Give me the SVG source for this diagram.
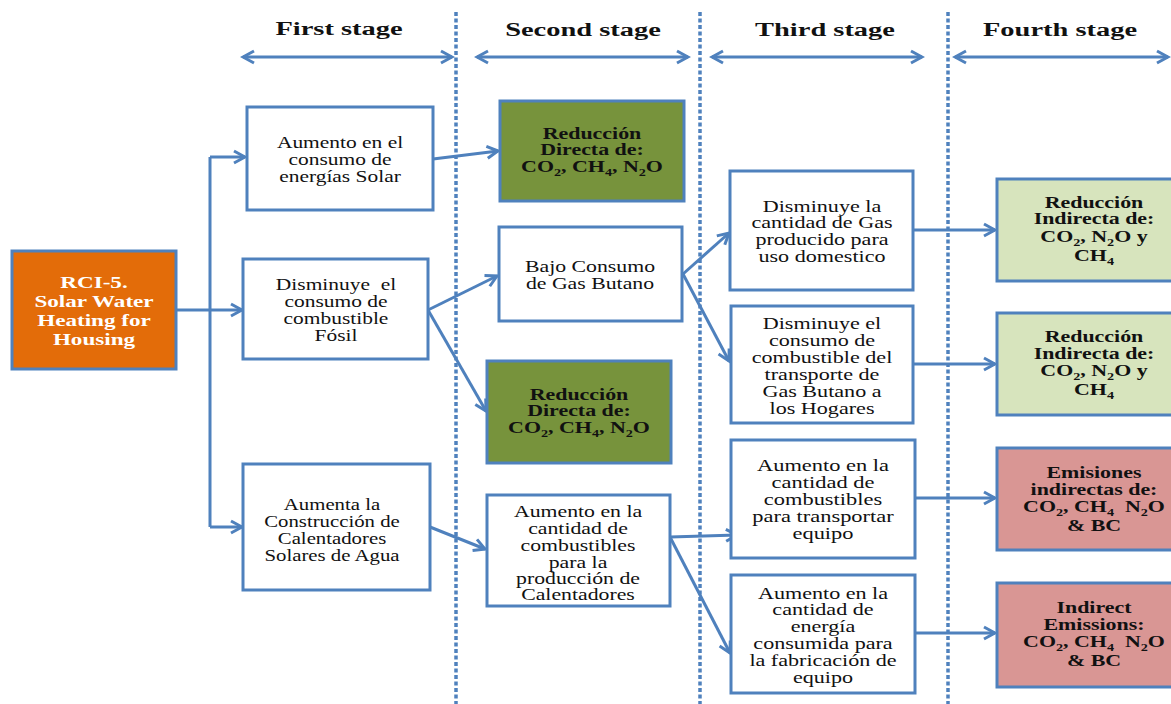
<svg xmlns="http://www.w3.org/2000/svg" width="1171" height="704" viewBox="0 0 1171 704">
  <style>
    .box { stroke: #4f81bd; stroke-width: 3; }
    .w { fill: #ffffff; }
    .g { fill: #77933c; }
    .lg { fill: #d7e4bd; }
    .pk { fill: #d99694; }
    .or { fill: #e36c09; }
    text { font-family: "Liberation Serif", "Times New Roman", serif; text-anchor: middle; fill: #111; }
    .t { font-size: 16.5px; }
    .b { font-size: 17px; font-weight: bold; }
    .h { font-size: 19.5px; font-weight: bold; }
    .wt { font-size: 17px; font-weight: bold; fill: #ffffff; }
    .sub { font-size: 11px; }
    .ln { stroke: #4f81bd; stroke-width: 3; fill: none; }
    .dash { stroke: #4f81bd; stroke-width: 3.5; stroke-dasharray: 4 2.5; fill: none; }
  </style>
  <defs>
    <marker id="ah" markerUnits="userSpaceOnUse" markerWidth="16" markerHeight="16" refX="13" refY="8" orient="auto-start-reverse">
      <path d="M2,2 L13,8 L2,14" fill="none" stroke="#4f81bd" stroke-width="3"/>
    </marker>
  </defs>
  <rect width="1171" height="704" fill="#ffffff"/>

  <!-- stage dividers -->
  <g id="dividers">
    <line class="dash" x1="456" y1="12" x2="456" y2="704"/>
    <line class="dash" x1="700" y1="12" x2="700" y2="704"/>
    <line class="dash" x1="948" y1="12" x2="948" y2="704"/>
  </g>

  <!-- stage headers (text widened horizontally) -->
  <g id="headers">
    <g transform="translate(339 0) scale(1.46 1)"><text class="h" x="0" y="35">First stage</text></g>
    <g transform="translate(583 0) scale(1.46 1)"><text class="h" x="0" y="36">Second stage</text></g>
    <g transform="translate(825 0) scale(1.46 1)"><text class="h" x="0" y="36">Third stage</text></g>
    <g transform="translate(1060 0) scale(1.46 1)"><text class="h" x="0" y="36">Fourth stage</text></g>
    <line class="ln" x1="243" y1="57" x2="452" y2="57" marker-start="url(#ah)" marker-end="url(#ah)"/>
    <line class="ln" x1="477" y1="57" x2="688" y2="57" marker-start="url(#ah)" marker-end="url(#ah)"/>
    <line class="ln" x1="712" y1="57" x2="922" y2="57" marker-start="url(#ah)" marker-end="url(#ah)"/>
    <line class="ln" x1="955" y1="57" x2="1168" y2="57" marker-start="url(#ah)" marker-end="url(#ah)"/>
  </g>

  <!-- connectors -->
  <g id="connectors">
    <polyline class="ln" points="176,310 210,310"/>
    <line class="ln" x1="210" y1="157" x2="210" y2="527"/>
    <line class="ln" x1="210" y1="157" x2="245" y2="157" marker-end="url(#ah)"/>
    <line class="ln" x1="210" y1="310" x2="242" y2="310" marker-end="url(#ah)"/>
    <line class="ln" x1="210" y1="527" x2="242" y2="527" marker-end="url(#ah)"/>
    <line class="ln" x1="433" y1="159" x2="498" y2="151" marker-end="url(#ah)"/>
    <line class="ln" x1="428" y1="310" x2="497" y2="276" marker-end="url(#ah)"/>
    <line class="ln" x1="428" y1="310" x2="486" y2="411" marker-end="url(#ah)"/>
    <line class="ln" x1="430" y1="527" x2="485" y2="549" marker-end="url(#ah)"/>
    <line class="ln" x1="683" y1="274" x2="729" y2="233" marker-end="url(#ah)"/>
    <line class="ln" x1="683" y1="274" x2="729" y2="361" marker-end="url(#ah)"/>
    <line class="ln" x1="670" y1="537" x2="737" y2="535" marker-end="url(#ah)"/>
    <line class="ln" x1="670" y1="537" x2="730" y2="653" marker-end="url(#ah)"/>
    <line class="ln" x1="913" y1="230" x2="995" y2="230" marker-end="url(#ah)"/>
    <line class="ln" x1="913" y1="364" x2="995" y2="364" marker-end="url(#ah)"/>
    <line class="ln" x1="915" y1="498" x2="995" y2="498" marker-end="url(#ah)"/>
    <line class="ln" x1="915" y1="633" x2="995" y2="633" marker-end="url(#ah)"/>
  </g>

  <!-- source measure -->
  <g id="rci5">
    <rect class="box or" x="12" y="251" width="164" height="118"/>
    <g transform="translate(94 0) scale(1.36 1)">
      <text class="wt" x="0" y="288">RCI-5.</text>
      <text class="wt" x="0" y="307">Solar Water</text>
      <text class="wt" x="0" y="326">Heating for</text>
      <text class="wt" x="0" y="345">Housing</text>
    </g>
  </g>

  <!-- first stage -->
  <g id="aumento-energias">
    <rect class="box w" x="247" y="107" width="186" height="103"/>
    <g transform="translate(340 0) scale(1.3 1)">
      <text class="t" x="0" y="148">Aumento en el</text>
      <text class="t" x="0" y="165">consumo de</text>
      <text class="t" x="0" y="182">energías Solar</text>
    </g>
  </g>
  <g id="disminuye-fosil">
    <rect class="box w" x="243" y="259" width="185" height="100"/>
    <g transform="translate(336 0) scale(1.3 1)">
      <text class="t" x="0" y="290">Disminuye&#160; el</text>
      <text class="t" x="0" y="307">consumo de</text>
      <text class="t" x="0" y="324">combustible</text>
      <text class="t" x="0" y="341">Fósil</text>
    </g>
  </g>
  <g id="aumenta-construccion">
    <rect class="box w" x="243" y="464" width="187" height="126"/>
    <g transform="translate(332 0) scale(1.26 1)">
      <text class="t" x="0" y="510">Aumenta la</text>
      <text class="t" x="0" y="527">Construcción de</text>
      <text class="t" x="0" y="544">Calentadores</text>
      <text class="t" x="0" y="561">Solares de Agua</text>
    </g>
  </g>

  <!-- second stage -->
  <g id="reduccion-directa-1">
    <rect class="box g" x="500" y="101" width="184" height="100"/>
    <g transform="translate(592 0) scale(1.29 1)">
      <text class="b" x="0" y="139">Reducción</text>
      <text class="b" x="0" y="155">Directa de:</text>
      <text class="b" x="0" y="172">CO<tspan class="sub" dy="4">2</tspan><tspan dy="-4">, CH</tspan><tspan class="sub" dy="4">4</tspan><tspan dy="-4">, N</tspan><tspan class="sub" dy="4">2</tspan><tspan dy="-4">O</tspan></text>
    </g>
  </g>
  <g id="bajo-consumo">
    <rect class="box w" x="499" y="227" width="183" height="94"/>
    <g transform="translate(590 0) scale(1.32 1)">
      <text class="t" x="0" y="272">Bajo Consumo</text>
      <text class="t" x="0" y="289">de Gas Butano</text>
    </g>
  </g>
  <g id="reduccion-directa-2">
    <rect class="box g" x="487" y="361" width="184" height="102"/>
    <g transform="translate(579 0) scale(1.29 1)">
      <text class="b" x="0" y="400">Reducción</text>
      <text class="b" x="0" y="416">Directa de:</text>
      <text class="b" x="0" y="433">CO<tspan class="sub" dy="4">2</tspan><tspan dy="-4">, CH</tspan><tspan class="sub" dy="4">4</tspan><tspan dy="-4">, N</tspan><tspan class="sub" dy="4">2</tspan><tspan dy="-4">O</tspan></text>
    </g>
  </g>
  <g id="aumento-calentadores">
    <rect class="box w" x="487" y="495" width="183" height="111"/>
    <g transform="translate(578 0) scale(1.32 1)">
      <text class="t" x="0" y="517">Aumento en la</text>
      <text class="t" x="0" y="534">cantidad de</text>
      <text class="t" x="0" y="551">combustibles</text>
      <text class="t" x="0" y="568">para la</text>
      <text class="t" x="0" y="584">producción de</text>
      <text class="t" x="0" y="600">Calentadores</text>
    </g>
  </g>

  <!-- third stage -->
  <g id="disminuye-gas">
    <rect class="box w" x="730" y="171" width="183" height="119"/>
    <g transform="translate(822 0) scale(1.34 1)">
      <text class="t" x="0" y="212">Disminuye la</text>
      <text class="t" x="0" y="228">cantidad de Gas</text>
      <text class="t" x="0" y="245">producido para</text>
      <text class="t" x="0" y="262">uso domestico</text>
    </g>
  </g>
  <g id="disminuye-transporte">
    <rect class="box w" x="731" y="306" width="182" height="117"/>
    <g transform="translate(822 0) scale(1.34 1)">
      <text class="t" x="0" y="329">Disminuye el</text>
      <text class="t" x="0" y="346">consumo de</text>
      <text class="t" x="0" y="363">combustible del</text>
      <text class="t" x="0" y="380">transporte de</text>
      <text class="t" x="0" y="397">Gas Butano a</text>
      <text class="t" x="0" y="414">los Hogares</text>
    </g>
  </g>
  <g id="aumento-transporte">
    <rect class="box w" x="731" y="440" width="184" height="118"/>
    <g transform="translate(823 0) scale(1.36 1)">
      <text class="t" x="0" y="471">Aumento en la</text>
      <text class="t" x="0" y="488">cantidad de</text>
      <text class="t" x="0" y="505">combustibles</text>
      <text class="t" x="0" y="522">para transportar</text>
      <text class="t" x="0" y="539">equipo</text>
    </g>
  </g>
  <g id="aumento-energia">
    <rect class="box w" x="731" y="575" width="184" height="118"/>
    <g transform="translate(823 0) scale(1.34 1)">
      <text class="t" x="0" y="599">Aumento en la</text>
      <text class="t" x="0" y="615">cantidad de</text>
      <text class="t" x="0" y="632">energía</text>
      <text class="t" x="0" y="649">consumida para</text>
      <text class="t" x="0" y="666">la fabricación de</text>
      <text class="t" x="0" y="683">equipo</text>
    </g>
  </g>

  <!-- fourth stage -->
  <g id="reduccion-indirecta-1">
    <rect class="box lg" x="997" y="179" width="185" height="102"/>
    <g transform="translate(1094 0) scale(1.29 1)">
      <text class="b" x="0" y="208">Reducción</text>
      <text class="b" x="0" y="224">Indirecta de:</text>
      <text class="b" x="0" y="242">CO<tspan class="sub" dy="4">2</tspan><tspan dy="-4">, N</tspan><tspan class="sub" dy="4">2</tspan><tspan dy="-4">O y</tspan></text>
      <text class="b" x="0" y="261">CH<tspan class="sub" dy="4">4</tspan></text>
    </g>
  </g>
  <g id="reduccion-indirecta-2">
    <rect class="box lg" x="997" y="313" width="185" height="102"/>
    <g transform="translate(1094 0) scale(1.29 1)">
      <text class="b" x="0" y="342">Reducción</text>
      <text class="b" x="0" y="359">Indirecta de:</text>
      <text class="b" x="0" y="376">CO<tspan class="sub" dy="4">2</tspan><tspan dy="-4">, N</tspan><tspan class="sub" dy="4">2</tspan><tspan dy="-4">O y</tspan></text>
      <text class="b" x="0" y="395">CH<tspan class="sub" dy="4">4</tspan></text>
    </g>
  </g>
  <g id="emisiones-indirectas">
    <rect class="box pk" x="997" y="448" width="185" height="102"/>
    <g transform="translate(1094 0) scale(1.29 1)">
      <text class="b" x="0" y="478">Emisiones</text>
      <text class="b" x="0" y="495">indirectas de:</text>
      <text class="b" x="0" y="512">CO<tspan class="sub" dy="4">2</tspan><tspan dy="-4">, CH</tspan><tspan class="sub" dy="4">4</tspan><tspan dy="-4">&#160; N</tspan><tspan class="sub" dy="4">2</tspan><tspan dy="-4">O</tspan></text>
      <text class="b" x="0" y="531">&amp; BC</text>
    </g>
  </g>
  <g id="indirect-emissions">
    <rect class="box pk" x="997" y="583" width="185" height="104"/>
    <g transform="translate(1094 0) scale(1.29 1)">
      <text class="b" x="0" y="613">Indirect</text>
      <text class="b" x="0" y="630">Emissions:</text>
      <text class="b" x="0" y="647">CO<tspan class="sub" dy="4">2</tspan><tspan dy="-4">, CH</tspan><tspan class="sub" dy="4">4</tspan><tspan dy="-4">&#160; N</tspan><tspan class="sub" dy="4">2</tspan><tspan dy="-4">O</tspan></text>
      <text class="b" x="0" y="666">&amp; BC</text>
    </g>
  </g>
</svg>
